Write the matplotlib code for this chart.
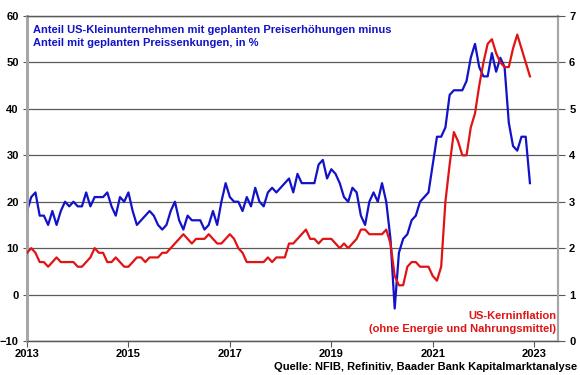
import numpy as np
import matplotlib
matplotlib.use("Agg")
import matplotlib.pyplot as plt

plt.rcParams["font.family"] = ["Liberation Sans", "DejaVu Sans"]
plt.rcParams["font.weight"] = "bold"

# NFIB: Anteil mit geplanten Preiserhoehungen minus Preissenkungen, monatlich 2013-2022
nfib_2013 = [18, 21, 22, 17, 17, 15, 18, 15, 18, 20, 19, 20]
nfib_2014 = [19, 19, 22, 19, 21, 21, 21, 22, 19, 17, 21, 20]
nfib_2015 = [22, 18, 15, 16, 17, 18, 17, 15, 14, 15, 18, 20]
nfib_2016 = [16, 14, 17, 16, 16, 16, 14, 15, 18, 15, 20, 24]
nfib_2017 = [21, 20, 20, 18, 21, 19, 23, 20, 19, 22, 23, 22]
nfib_2018 = [23, 24, 25, 22, 26, 24, 24, 24, 24, 28, 29, 25]
nfib_2019 = [27, 26, 24, 21, 20, 23, 22, 17, 15, 20, 22, 20]
nfib_2020 = [24, 20, 12, -3, 9, 12, 13, 16, 17, 20, 21, 22]
nfib_2021 = [28, 34, 34, 36, 43, 44, 44, 44, 46, 51, 54, 49]
nfib_2022 = [47, 47, 52, 48, 51, 49, 37, 32, 31, 34, 34, 24]

# US-Kerninflation in % (rechte Achse)
core_2013 = [1.9, 2.0, 1.9, 1.7, 1.7, 1.6, 1.7, 1.8, 1.7, 1.7, 1.7, 1.7]
core_2014 = [1.6, 1.6, 1.7, 1.8, 2.0, 1.9, 1.9, 1.7, 1.7, 1.8, 1.7, 1.6]
core_2015 = [1.6, 1.7, 1.8, 1.8, 1.7, 1.8, 1.8, 1.8, 1.9, 1.9, 2.0, 2.1]
core_2016 = [2.2, 2.3, 2.2, 2.1, 2.2, 2.2, 2.2, 2.3, 2.2, 2.1, 2.1, 2.2]
core_2017 = [2.3, 2.2, 2.0, 1.9, 1.7, 1.7, 1.7, 1.7, 1.7, 1.8, 1.7, 1.8]
core_2018 = [1.8, 1.8, 2.1, 2.1, 2.2, 2.3, 2.4, 2.2, 2.2, 2.1, 2.2, 2.2]
core_2019 = [2.2, 2.1, 2.0, 2.1, 2.0, 2.1, 2.2, 2.4, 2.4, 2.3, 2.3, 2.3]
core_2020 = [2.3, 2.4, 2.1, 1.4, 1.2, 1.2, 1.6, 1.7, 1.7, 1.6, 1.6, 1.6]
core_2021 = [1.4, 1.3, 1.6, 3.0, 3.8, 4.5, 4.3, 4.0, 4.0, 4.6, 4.9, 5.5]
core_2022 = [6.0, 6.4, 6.5, 6.2, 6.0, 5.9, 5.9, 6.3, 6.6, 6.3, 6.0, 5.7]

nfib = (nfib_2013 + nfib_2014 + nfib_2015 + nfib_2016 + nfib_2017
        + nfib_2018 + nfib_2019 + nfib_2020 + nfib_2021 + nfib_2022)
core = (core_2013 + core_2014 + core_2015 + core_2016 + core_2017
        + core_2018 + core_2019 + core_2020 + core_2021 + core_2022)
x = 2013 + np.arange(len(nfib)) / 12

year_ticks = [2013, 2015, 2017, 2019, 2021, 2023]
left_ticks = [-10, 0, 10, 20, 30, 40, 50, 60]
right_ticks = [0, 1, 2, 3, 4, 5, 6, 7]

blue = "#1212C8"
red = "#E01414"
grid_col = "#5a5a5a"
spine_col = "#a6a6a6"

fig = plt.figure(figsize=(5.8, 3.75), dpi=100)
ax = fig.add_axes([27 / 580, 34 / 375, 531 / 580, 325 / 375])
ax2 = ax.twinx()

ax.plot(x, nfib, color=blue, lw=1.6, zorder=3)
ax2.plot(x, core, color=red, lw=1.6, zorder=3)

ax.set_xlim(2013, 2023.47)
ax.set_ylim(-10, 60)
ax2.set_ylim(0, 7)

ax.set_xticks(year_ticks)
ax.set_xticklabels([str(y) for y in year_ticks])
ax.set_yticks(left_ticks)
ax2.set_yticks(right_ticks)

ax.grid(axis="y", color=grid_col, lw=0.9)
ax.set_axisbelow(True)

for a in (ax, ax2):
    a.spines["left"].set_color(spine_col)
    a.spines["left"].set_linewidth(2)
    a.spines["right"].set_color(spine_col)
    a.spines["right"].set_linewidth(1.5)
    a.spines["top"].set_color(grid_col)
    a.spines["top"].set_linewidth(0.9)
    a.spines["bottom"].set_color(grid_col)
    a.spines["bottom"].set_linewidth(0.9)

ax.tick_params(axis="x", length=4, color=grid_col, labelsize=8, pad=2)
ax.tick_params(axis="y", length=3, color=grid_col, labelsize=8, pad=3)
ax2.tick_params(axis="y", length=5, color=grid_col, labelsize=8, pad=3)

ax.text(0.012, 0.972,
        "Anteil US-Kleinunternehmen mit geplanten Preiserhöhungen minus\n"
        "Anteil mit geplanten Preissenkungen, in %",
        transform=ax.transAxes, color=blue, fontsize=8, fontweight="bold",
        va="top", ha="left", linespacing=1.35)
ax.text(0.997, 0.022,
        "US-Kerninflation\n(ohne Energie und Nahrungsmittel)",
        transform=ax.transAxes, color=red, fontsize=8, fontweight="bold",
        va="bottom", ha="right", linespacing=1.35, multialignment="right")
fig.text(577 / 580, 8 / 375,
         "Quelle: NFIB, Refinitiv, Baader Bank Kapitalmarktanalyse",
         fontsize=8, fontweight="bold", ha="right", va="center")

fig.savefig("out.png", dpi=100)
